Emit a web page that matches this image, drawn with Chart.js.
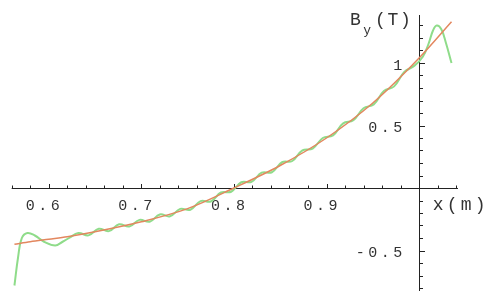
<!DOCTYPE html>
<html lang="en">
<head>
    <meta charset="UTF-8">
    <title>B_y versus x</title>
    <script src="https://cdn.jsdelivr.net/npm/chart.js"></script>
    <style>
        body { margin: 0; background: #fff; }
    </style>
</head>
<body>
    <canvas id="fieldChart" width="488" height="291"></canvas>

    <script>
        // fitted field (red)
        const redX = [0.563, 0.58, 0.60, 0.62, 0.65, 0.70, 0.75, 0.80, 0.85, 0.90, 0.95, 1.00, 1.035];
        const redY = [-0.45, -0.43, -0.41, -0.39, -0.35, -0.27, -0.165, 0.0, 0.18, 0.40, 0.68, 1.04, 1.33];

        // harmonic reconstruction (green)
        const greenX = [0.563, 0.567, 0.571, 0.577, 0.585, 0.595, 0.607, 0.615, 0.622,
            0.632, 0.643, 0.654, 0.665, 0.676, 0.687, 0.698, 0.709, 0.720, 0.731,
            0.742, 0.753, 0.764, 0.775, 0.786, 0.797, 0.808, 0.819, 0.830, 0.841,
            0.852, 0.863, 0.874, 0.885, 0.896, 0.907, 0.918, 0.929, 0.940, 0.951,
            0.962, 0.973, 0.984, 0.995, 1.004, 1.010, 1.015, 1.019, 1.024, 1.029, 1.035];
        const greenY = [-0.78, -0.55, -0.40, -0.36, -0.38, -0.43, -0.46, -0.43, -0.40,
            -0.360, -0.379, -0.326, -0.345, -0.290, -0.308, -0.255, -0.270, -0.212, -0.226,
            -0.167, -0.174, -0.105, -0.108, -0.036, -0.030, 0.046, 0.049, 0.123, 0.126,
            0.206, 0.216, 0.301, 0.315, 0.400, 0.421, 0.517, 0.542, 0.638, 0.669,
            0.776, 0.813, 0.928, 0.979, 1.05, 1.15, 1.26, 1.30, 1.27, 1.16, 1.00];

        const xTickValues = [0.6, 0.7, 0.8, 0.9];
        const xTickLabels = ['0.6', '0.7', '0.8', '0.9'];
        const yTickValues = [1, 0.5, -0.5];
        const yTickLabels = ['1', '0.5', '-0.5'];

        const toPoints = (xs, ys) => xs.map((x, i) => ({ x: x, y: ys[i] }));

        // spaced-out monospace text, like the original plot
        function drawSpaced(ctx, text, x, y, align, pitch) {
            const w = pitch * text.length;
            let start = x;
            if (align === 'center') start = x - w / 2;
            if (align === 'right') start = x - w;
            ctx.textAlign = 'center';
            for (let i = 0; i < text.length; i++) {
                ctx.fillText(text[i], start + pitch * (i + 0.5), y);
            }
        }

        const crossAxes = {
            id: 'crossAxes',
            beforeDatasetsDraw(chart) {
                const ctx = chart.ctx;
                const sx = chart.scales.x, sy = chart.scales.y;
                const x0 = sy.getPixelForValue(0);
                const y1 = sx.getPixelForValue(1);
                ctx.save();
                ctx.strokeStyle = '#222';
                ctx.lineWidth = 1;
                ctx.beginPath();
                ctx.moveTo(sx.getPixelForValue(0.56), Math.round(x0) + 0.5);
                ctx.lineTo(sx.getPixelForValue(1.042), Math.round(x0) + 0.5);
                ctx.moveTo(Math.round(y1) + 0.5, sy.getPixelForValue(1.384));
                ctx.lineTo(Math.round(y1) + 0.5, sy.getPixelForValue(-0.83));
                // x ticks every 0.02, upward
                for (let k = 28; k <= 52; k++) {
                    const v = k / 50;
                    const px = Math.round(sx.getPixelForValue(v)) + 0.5;
                    const len = (k % 5 === 0) ? 4 : 2.5;
                    ctx.moveTo(px, Math.round(x0));
                    ctx.lineTo(px, Math.round(x0) - len);
                }
                // y ticks every 0.1, to the right
                for (let k = -8; k <= 13; k++) {
                    const v = k / 10;
                    const py = Math.round(sy.getPixelForValue(v)) + 0.5;
                    const len = (k % 5 === 0) ? 5 : 3;
                    ctx.moveTo(Math.round(y1) + 1, py);
                    ctx.lineTo(Math.round(y1) + 1 + len, py);
                }
                ctx.stroke();

                ctx.fillStyle = '#333';
                ctx.font = '15px "Liberation Mono"';
                ctx.textBaseline = 'middle';
                xTickValues.forEach((v, i) => {
                    drawSpaced(ctx, xTickLabels[i], sx.getPixelForValue(v) - 6, x0 + 18, 'center', 12.5);
                });
                yTickValues.forEach((v, i) => {
                    drawSpaced(ctx, yTickLabels[i], y1 - 15, sy.getPixelForValue(v) + 3, 'right', 12.5);
                });
                // axis titles
                ctx.font = '18px "Liberation Mono"';
                drawSpaced(ctx, 'x(m)', y1 + 12, x0 + 17, 'left', 14);
                drawSpaced(ctx, 'B', y1 - 70, 20, 'left', 12.5);
                drawSpaced(ctx, '(T)', y1 - 45, 20, 'left', 12.5);
                ctx.font = '13px "Liberation Mono"';
                ctx.fillText('y', y1 - 52, 31);
                ctx.restore();
            }
        };

        const ctx = document.getElementById('fieldChart').getContext('2d');
        const chart = new Chart(ctx, {
            type: 'line',
            data: {
                datasets: [
                    {
                        label: 'fit',
                        data: toPoints(redX, redY),
                        borderColor: '#e3875f',
                        borderWidth: 1.5,
                        pointRadius: 0,
                        cubicInterpolationMode: 'monotone',
                        fill: false,
                    },
                    {
                        label: 'series',
                        data: toPoints(greenX, greenY),
                        borderColor: '#8fdc8a',
                        borderWidth: 2,
                        pointRadius: 0,
                        tension: 0.4,
                        fill: false,
                    }
                ],
            },
            options: {
                responsive: false,
                animation: false,
                layout: { padding: 0 },
                plugins: { legend: { display: false }, tooltip: { enabled: false } },
                scales: {
                    x: { type: 'linear', min: 0.5474, max: 1.0744, display: false },
                    y: { type: 'linear', min: -0.824, max: 1.504, display: false },
                },
            },
            plugins: [crossAxes],
        });
    </script>
</body>
</html>
